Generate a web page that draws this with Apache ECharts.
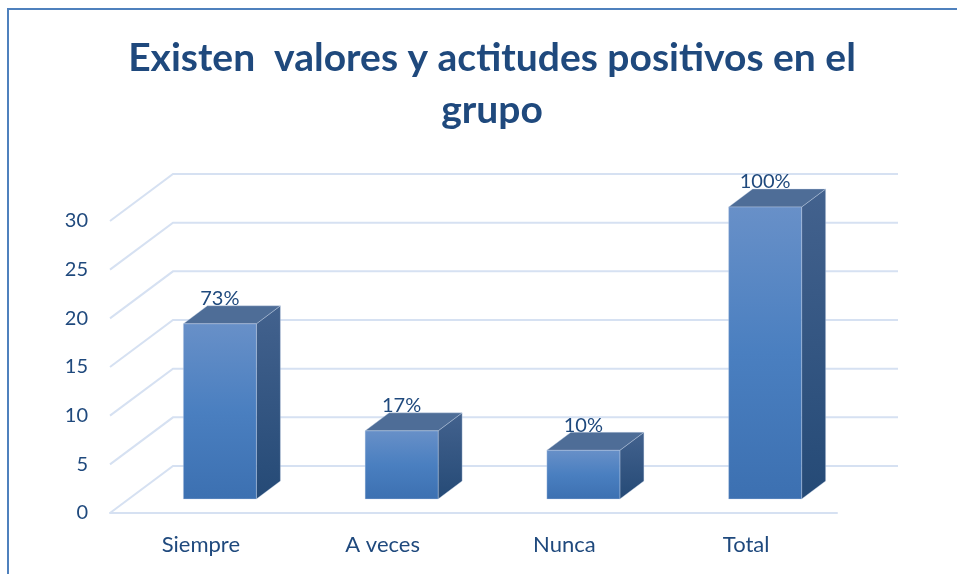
<!DOCTYPE html>
<html>
<head>
<meta charset="utf-8">
<script src="https://cdn.jsdelivr.net/npm/echarts@6/dist/echarts.min.js"></script>
<style>
html,body{margin:0;padding:0;background:#fff;}
#chart{width:957px;height:574px;}
</style>
</head>
<body>
<div id="chart"></div>
<script>
var titleText = 'Existen  valores y actitudes positivos en el\ngrupo';
var categories = ['Siempre', 'A veces', 'Nunca', 'Total'];
var values = [18, 7, 5, 30];
var pctLabels = ['73%', '17%', '10%', '100%'];
var yTicks = [0, 5, 10, 15, 20, 25, 30];

var TEXT = '#1F497D';
var GRID = '#D6E1F2';
var BACK_DX = 63, BACK_DY = -47;   // back wall offset
var MID_DX = 19, MID_DY = -14;     // bar front face offset
var DEP_DX = 24, DEP_DY = -18;     // bar depth
var BAR_W = 73;

var chart = echarts.init(document.getElementById('chart'), null, {renderer: 'canvas'});

var option = {
  backgroundColor: '#fff',
  animation: false,
  title: {
    text: titleText,
    left: 487,
    top: 27,
    textAlign: 'center',
    textStyle: {
      fontFamily: 'Lato',
      fontWeight: 'bold',
      fontSize: 39,
      lineHeight: 52,
      color: TEXT
    }
  },
  graphic: [{
    type: 'rect',
    shape: {x: 8, y: 9, width: 1200, height: 1000},
    style: {fill: 'none', stroke: '#4F81BD', lineWidth: 2},
    silent: true,
    z: 100
  }],
  grid: {left: 110, right: 120, top: 221, bottom: 61},
  xAxis: {
    type: 'category',
    data: categories,
    axisLine: {show: true, lineStyle: {color: GRID, width: 2}},
    axisTick: {show: false},
    axisLabel: {color: TEXT, fontSize: 22, fontFamily: 'Lato', margin: 21},
    splitLine: {show: false}
  },
  yAxis: {
    type: 'value',
    min: 0,
    max: 30,
    interval: 5,
    axisLine: {show: false},
    axisTick: {show: false},
    splitLine: {show: false},
    axisLabel: {color: TEXT, fontSize: 20, fontFamily: 'Lato', margin: 22}
  },
  series: [
    {
      type: 'custom',
      name: 'grid',
      silent: true,
      z: 1,
      data: yTicks.map(function (v) { return [0, v]; }),
      renderItem: function (params, api) {
        var cs = params.coordSys;
        var y = api.coord([0, api.value(1)])[1];
        var x0 = cs.x;
        var x1 = cs.x + cs.width;
        return {
          type: 'polyline',
          shape: {points: [[x0, y], [x0 + BACK_DX, y + BACK_DY], [x1 + BACK_DX - 2, y + BACK_DY]]},
          style: {fill: 'none', stroke: GRID, lineWidth: 2}
        };
      }
    },
    {
      type: 'custom',
      name: 'bars',
      z: 2,
      data: values.map(function (v, i) { return [i, v]; }),
      renderItem: function (params, api) {
        var i = api.value(0);
        var v = api.value(1);
        var base = api.coord([i, 0]);
        var top = api.coord([i, v]);
        var cx = base[0] + MID_DX;
        var yb = base[1] + MID_DY;
        var yt = top[1] + MID_DY;
        var xl = cx - BAR_W / 2, xr = cx + BAR_W / 2;
        var edge = 'rgba(200,215,235,0.35)';
        return {
          type: 'group',
          children: [
            {
              type: 'polygon',
              shape: {points: [[xr, yt], [xr + DEP_DX, yt + DEP_DY], [xr + DEP_DX, yb + DEP_DY], [xr, yb]]},
              style: {
                fill: new echarts.graphic.LinearGradient(0, 0, 0, 1, [
                  {offset: 0, color: '#43628E'},
                  {offset: 1, color: '#254A76'}
                ]),
                stroke: edge, lineWidth: 1
              }
            },
            {
              type: 'polygon',
              shape: {points: [[xl, yt], [xl + DEP_DX, yt + DEP_DY], [xr + DEP_DX, yt + DEP_DY], [xr, yt]]},
              style: {fill: '#4E6D97', stroke: edge, lineWidth: 1}
            },
            {
              type: 'rect',
              shape: {x: xl, y: yt, width: BAR_W, height: yb - yt},
              style: {
                fill: new echarts.graphic.LinearGradient(0, 0, 0, 1, [
                  {offset: 0, color: '#6890C8'},
                  {offset: 0.5, color: '#4A7FC0'},
                  {offset: 1, color: '#3C70B1'}
                ]),
                stroke: edge, lineWidth: 1
              }
            },
            {
              type: 'text',
              x: cx,
              y: yt - 25,
              style: {
                text: pctLabels[i],
                align: 'center',
                verticalAlign: 'middle',
                fill: TEXT,
                fontSize: 20,
                fontFamily: 'Lato'
              },
              z2: 10
            }
          ]
        };
      }
    }
  ]
};
chart.setOption(option);
</script>
</body>
</html>
